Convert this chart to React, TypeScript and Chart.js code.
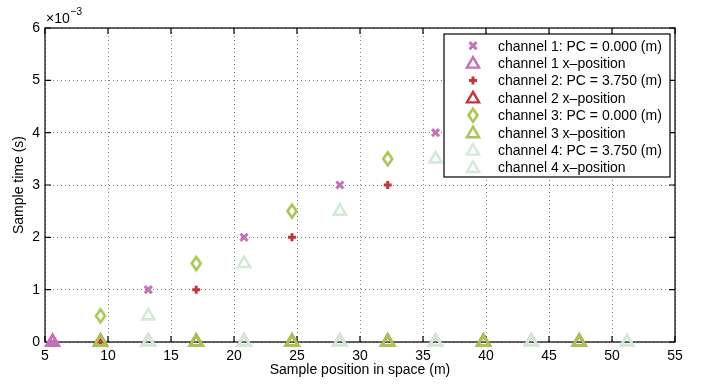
import React, { useEffect, useRef } from "react";
import { Chart, registerables } from "chart.js";

Chart.register(...registerables);

// ---- data (x in metres, t in seconds) ----
const ch1SampleX = [5.6, 13.2, 20.8, 28.4, 36.0];
const ch1SampleT = [0, 0.001, 0.002, 0.003, 0.004];
const ch1PosX = [5.6, 13.2, 20.8, 28.4, 36.0, 43.6];

const ch2SampleX = [9.4, 17.0, 24.6, 32.2];
const ch2SampleT = [0, 0.001, 0.002, 0.003];
const ch2PosX = [9.4, 17.0, 24.6, 32.2, 39.8, 47.4];

const ch3SampleX = [9.4, 17.0, 24.6, 32.2];
const ch3SampleT = [0.0005, 0.0015, 0.0025, 0.0035];
const ch3PosX = [9.4, 17.0, 24.6, 32.2, 39.8, 47.4];

const ch4SampleX = [13.2, 20.8, 28.4, 36.0];
const ch4SampleT = [0.0005, 0.0015, 0.0025, 0.0035];
const ch4PosX = [13.2, 20.8, 28.4, 36.0, 43.6, 51.2];

const xTickValues = [5, 10, 15, 20, 25, 30, 35, 40, 45, 50, 55];
const yTickValues = [0, 0.001, 0.002, 0.003, 0.004, 0.005, 0.006];

const legendLabels = [
  "channel 1: PC = 0.000 (m)",
  "channel 1 x\u2013position",
  "channel 2: PC = 3.750 (m)",
  "channel 2 x\u2013position",
  "channel 3: PC = 0.000 (m)",
  "channel 3 x\u2013position",
  "channel 4: PC = 3.750 (m)",
  "channel 4 x\u2013position",
];

const PINK = "#c76fb8";
const RED = "#c8323a";
const GREEN = "#a8c552";
const LIGHT = "#d2ebd7";
const FONT = "'Liberation Sans', Arial, Helvetica, sans-serif";

const pairs = (xs: number[], ys: number[]) => xs.map((x, i) => ({ x, y: ys[i] }));
const zeros = (xs: number[]) => xs.map((x) => ({ x, y: 0 }));

function makeDiamond(color: string) {
  const c = document.createElement("canvas");
  c.width = 14;
  c.height = 18;
  const g = c.getContext("2d")!;
  g.strokeStyle = color;
  g.lineWidth = 2.6;
  g.lineJoin = "miter";
  g.beginPath();
  g.moveTo(7, 2.5);
  g.lineTo(11.5, 9);
  g.lineTo(7, 15.5);
  g.lineTo(2.5, 9);
  g.closePath();
  g.stroke();
  return c;
}

function drawMarker(ctx: CanvasRenderingContext2D, ds: any, x: number, y: number) {
  const style = ds.pointStyle;
  const r = ds.pointRadius;
  ctx.save();
  ctx.strokeStyle = ds.borderColor;
  ctx.lineWidth = style === "triangle" ? 2.4 : ds.borderWidth;
  ctx.beginPath();
  if (style === "crossRot") {
    const d = r * Math.SQRT1_2;
    ctx.moveTo(x - d, y - d);
    ctx.lineTo(x + d, y + d);
    ctx.moveTo(x + d, y - d);
    ctx.lineTo(x - d, y + d);
    ctx.stroke();
  } else if (style === "cross") {
    ctx.moveTo(x - r, y);
    ctx.lineTo(x + r, y);
    ctx.moveTo(x, y - r);
    ctx.lineTo(x, y + r);
    ctx.stroke();
  } else if (style === "triangle") {
    ctx.moveTo(x, y - r);
    ctx.lineTo(x + r * 0.866, y + r / 2);
    ctx.lineTo(x - r * 0.866, y + r / 2);
    ctx.closePath();
    ctx.stroke();
  } else if (style instanceof HTMLCanvasElement) {
    ctx.drawImage(style, x - style.width / 2, y - style.height / 2);
  }
  ctx.restore();
}

const framePlugin = {
  id: "matlabFrame",
  beforeDatasetsDraw(chart: any) {
    const { ctx, chartArea: a, scales } = chart;
    ctx.save();
    ctx.strokeStyle = "#000";
    ctx.lineWidth = 1.2;
    ctx.strokeRect(a.left, a.top, a.right - a.left, a.bottom - a.top);
    const L = 6;
    ctx.beginPath();
    xTickValues.forEach((v) => {
      const px = scales.x.getPixelForValue(v);
      ctx.moveTo(px, a.bottom);
      ctx.lineTo(px, a.bottom - L);
      ctx.moveTo(px, a.top);
      ctx.lineTo(px, a.top + L);
    });
    yTickValues.forEach((v) => {
      const py = scales.y.getPixelForValue(v);
      ctx.moveTo(a.left, py);
      ctx.lineTo(a.left + L, py);
      ctx.moveTo(a.right, py);
      ctx.lineTo(a.right - L, py);
    });
    ctx.stroke();
    // exponent label
    ctx.fillStyle = "#000";
    ctx.textBaseline = "alphabetic";
    ctx.textAlign = "left";
    ctx.font = `14px ${FONT}`;
    ctx.fillText("\u00d710", a.left + 1, a.top - 5);
    const w = ctx.measureText("\u00d710").width;
    ctx.font = `10px ${FONT}`;
    ctx.fillText("\u22123", a.left + 1 + w + 1, a.top - 13);
    ctx.restore();
  },
  afterDraw(chart: any) {
    const { ctx } = chart;
    const bx = 444, by = 34, bw = 226, bh = 143;
    ctx.save();
    ctx.fillStyle = "#fff";
    ctx.fillRect(bx, by, bw, bh);
    ctx.strokeStyle = "#000";
    ctx.lineWidth = 1.2;
    ctx.strokeRect(bx, by, bw, bh);
    ctx.font = `14px ${FONT}`;
    ctx.fillStyle = "#000";
    ctx.textBaseline = "middle";
    ctx.textAlign = "left";
    chart.data.datasets.forEach((ds: any, i: number) => {
      const y = by + 11.7 + i * 17.4;
      drawMarker(ctx, ds, 473, y + (ds.pointStyle === "triangle" ? 1 : 0));
      ctx.fillText(ds.label, 498, y + 1);
    });
    ctx.restore();
  },
};

export default function App() {
  const ref = useRef<HTMLCanvasElement | null>(null);
  useEffect(() => {
    document.body.style.margin = "0";
    const diamond = makeDiamond(GREEN);
    const mk = (label: string, data: any[], style: any, color: string, r: number, bw: number, order: number) => ({
      label,
      data,
      pointStyle: style,
      borderColor: color,
      backgroundColor: "rgba(0,0,0,0)",
      pointRadius: r,
      pointHoverRadius: r,
      borderWidth: bw,
      showLine: false,
      clip: false as any,
      order,
    });
    const datasets = [
      mk(legendLabels[0], pairs(ch1SampleX, ch1SampleT), "crossRot", PINK, 5, 3, 8),
      mk(legendLabels[1], zeros(ch1PosX), "triangle", PINK, 7, 3, 7),
      mk(legendLabels[2], pairs(ch2SampleX, ch2SampleT), "cross", RED, 4, 3, 6),
      mk(legendLabels[3], zeros(ch2PosX), "triangle", RED, 7, 3, 5),
      mk(legendLabels[4], pairs(ch3SampleX, ch3SampleT), diamond, GREEN, 7, 2.6, 4),
      mk(legendLabels[5], zeros(ch3PosX), "triangle", GREEN, 7, 3, 3),
      mk(legendLabels[6], pairs(ch4SampleX, ch4SampleT), "triangle", LIGHT, 7, 2.6, 2),
      mk(legendLabels[7], zeros(ch4PosX), "triangle", LIGHT, 7, 3, 1),
    ];
    const chart = new Chart(ref.current!, {
      type: "scatter",
      data: { datasets },
      plugins: [framePlugin],
      options: {
        animation: false,
        responsive: false,
        devicePixelRatio: 1,
        layout: { padding: { left: 0, top: 28, right: 37, bottom: 0 } },
        plugins: { legend: { display: false }, tooltip: { enabled: false } },
        scales: {
          x: {
            type: "linear",
            min: 5,
            max: 55,
            afterBuildTicks: (s: any) => {
              s.ticks = xTickValues.map((v) => ({ value: v }));
            },
            afterFit: (s: any) => {
              s.height = 385 - 342;
            },
            ticks: { color: "#000", font: { family: FONT, size: 14 }, padding: 6, maxRotation: 0, autoSkip: false },
            grid: { color: "#7a7a7a", lineWidth: 1, drawTicks: false },
            border: { display: false, dash: [1, 3] },
            title: {
              display: true,
              text: "Sample position in space (m)",
              color: "#000",
              font: { family: FONT, size: 14 },
              padding: { top: 0, bottom: 6 },
            },
          },
          y: {
            type: "linear",
            min: 0,
            max: 0.006,
            afterBuildTicks: (s: any) => {
              s.ticks = yTickValues.map((v) => ({ value: v }));
            },
            afterFit: (s: any) => {
              s.width = 45;
            },
            ticks: {
              color: "#000",
              font: { family: FONT, size: 14 },
              padding: 5,
              autoSkip: false,
              callback: (v: any) => String(Math.round(Number(v) * 1000)),
            },
            grid: { color: "#7a7a7a", lineWidth: 1, drawTicks: false },
            border: { display: false, dash: [1, 3] },
            title: {
              display: true,
              text: "Sample time (s)",
              color: "#000",
              font: { family: FONT, size: 14 },
              padding: { top: 11, bottom: 0 },
            },
          },
        },
      },
    });
    return () => chart.destroy();
  }, []);
  return (
    <div style={{ width: 712, height: 385 }}>
      <canvas ref={ref} width={712} height={385} style={{ display: "block" }} />
    </div>
  );
}
